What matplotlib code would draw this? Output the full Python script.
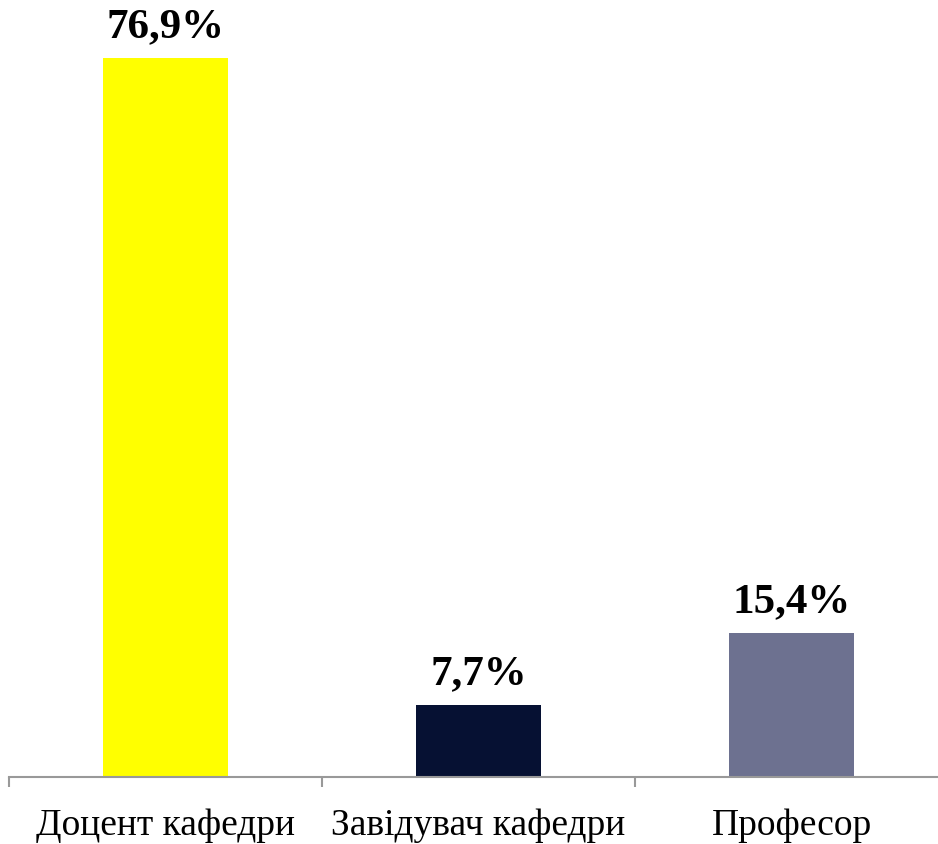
import matplotlib
matplotlib.use("Agg")
import matplotlib.pyplot as plt

categories = ["Доцент кафедри", "Завідувач кафедри", "Професор"]
values = [76.9, 7.7, 15.4]
labels = ["76,9%", "7,7%", "15,4%"]
colors = ["#FFFF00", "#061133", "#6D7190"]

plt.rcParams['font.family'] = ['Liberation Serif', 'DejaVu Serif']

fig = plt.figure(figsize=(9.38, 8.45), dpi=100)
ax = fig.add_axes([9/938, 67/845, 939/938, 748/845])
x = list(range(len(categories)))
bars = ax.bar(x, values, width=0.4, color=colors)
for xi, v, lab in zip(x, values, labels):
    ax.annotate(lab, (xi, v), xytext=(0, 9), textcoords="offset points",
                ha="center", va="bottom", fontsize=31, fontweight="bold")
ax.set_xlim(-0.5, 2.5)
ax.set_ylim(0, 80)
for s in ["top", "right", "left"]:
    ax.spines[s].set_visible(False)
ax.spines["bottom"].set_color("#999999")
ax.spines["bottom"].set_linewidth(1.5)
ax.set_yticks([])
ax.set_xticks([-0.5, 0.5, 1.5, 2.5])
ax.set_xticklabels([])
ax.tick_params(axis="x", which="major", length=7, width=1.5, color="#999999", direction="out")
ax.set_xticks(x, minor=True)
ax.set_xticklabels(categories, minor=True, fontsize=27)
ax.tick_params(axis="x", which="minor", length=0, pad=22)
fig.savefig("out.png", dpi=100)
